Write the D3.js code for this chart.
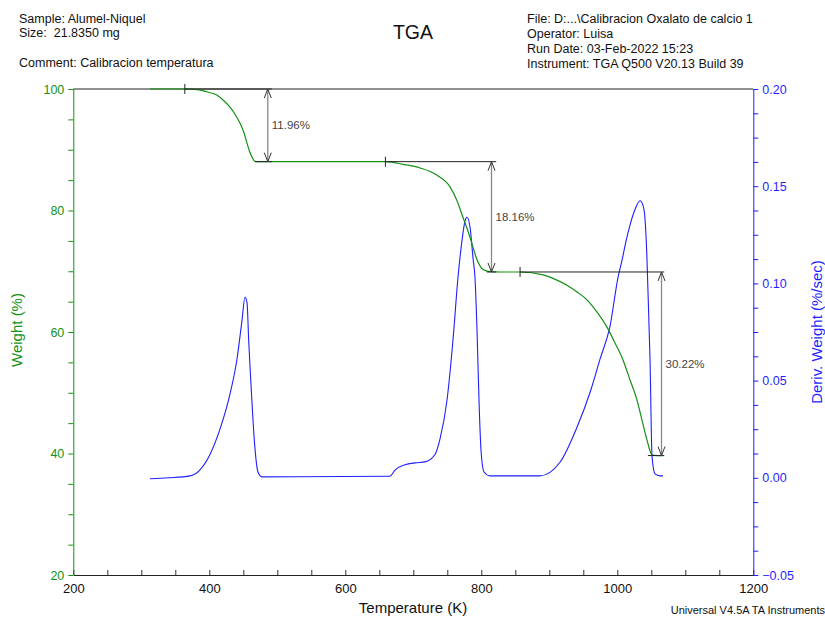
<!DOCTYPE html>
<html>
<head>
<meta charset="utf-8">
<script src="https://cdn.jsdelivr.net/npm/d3@7"></script>
<style>
  body { margin: 0; background: #fff; }
  svg { font-family: "Liberation Sans", Arial, sans-serif; }
</style>
</head>
<body>
<svg width="825" height="619"></svg>
<script>
// weight curve
const tempW = [312.8, 364, 385, 397, 411, 421, 430.4, 438, 445, 451, 455.4, 459, 462.8, 467, 473,
  659, 685, 710, 735, 754, 764, 773, 783.4, 793.7, 802.5, 812.8, 827,
  857, 891, 908, 926, 940.7, 955.4, 970, 984.8, 996.6, 1008.4, 1018.7, 1029, 1036.3, 1043.7, 1051, 1058, 1067]
const weight = [100, 100, 99.85, 99.5, 99.0, 98.1, 97.0, 95.8, 94.4, 92.8, 91.1, 89.8, 88.8, 88.1, 88.04,
  88.04, 87.6, 87.0, 85.8, 83.9, 81.7, 78.9, 75.6, 71.9, 70.3, 69.95, 69.88,
  69.88, 69.4, 68.7, 67.7, 66.6, 65.3, 63.3, 60.8, 58.2, 55.4, 52.1, 48.8, 45.5, 42.2, 39.8, 39.66, 39.66]

// derivative curve
const tempD = [312.8, 340, 371.6, 386, 401, 415.7, 430.4, 440.7, 448.1, 452.5, 455.5, 458, 461, 464.2, 467.2, 471.6, 477.5,
  665.7, 673.1, 687.8, 702.5, 717.2, 731.9, 739.3, 749.6, 758.4, 765.7, 771.6, 776, 779, 783.4, 787.8, 790.7, 793.7, 796.6, 799.6, 804, 812.8,
  886, 915.7, 940.7, 960, 974.6, 989.3, 1001, 1007, 1013, 1018.7, 1026, 1033.4, 1037.9, 1040.8, 1043.7, 1045.2, 1048.1, 1051.1, 1055.5, 1062.8, 1067.2]
const deriv = [-0.0005, 0, 0.001, 0.004, 0.012, 0.025, 0.043, 0.061, 0.081, 0.093, 0.09, 0.07, 0.05, 0.03, 0.015, 0.003, 0.0005,
  0.0008, 0.004, 0.0067, 0.0077, 0.0082, 0.012, 0.02, 0.04, 0.071, 0.103, 0.122, 0.132, 0.134, 0.129, 0.113, 0.103, 0.076, 0.04, 0.014, 0.003, 0.001,
  0.001, 0.008, 0.026, 0.044, 0.061, 0.078, 0.103, 0.112, 0.122, 0.130, 0.138, 0.1425, 0.140, 0.133, 0.112, 0.095, 0.061, 0.011, 0.002, 0.001, 0.001]

// step analysis
const stepStartT = [364, 659, 857]
const stepArrowT = [486, 815, 1065]
const stepEndT = [492, 822, 1069]
const stepLowT = [467, 808, 1045]
const stepTop = [100, 88.04, 69.88]
const stepPct = [11.96, 18.16, 30.22]

const xTicks = [200, 400, 600, 800, 1000, 1200]
const wTicks = [20, 40, 60, 80, 100]
const dTicks = [-0.05, 0, 0.05, 0.10, 0.15, 0.20]

const headerLeft = ['Sample: Alumel-Niquel', 'Size:  21.8350 mg']
const headerRight = ['File: D:...\\Calibracion Oxalato de calcio 1', 'Operator: Luisa',
  'Run Date: 03-Feb-2022 15:23', 'Instrument: TGA Q500 V20.13 Build 39']

const GREEN = '#139113'
const BLUE = '#1f1fff'

const svg = d3.select('svg')

const x = d3.scaleLinear().domain([200, 1200]).range([73.3, 753.3])
const yW = d3.scaleLinear().domain([20, 100]).range([575, 89])
const yD = d3.scaleLinear().domain([-0.05, 0.20]).range([575, 89])

// open arrow head, tip at the line end
svg.append('defs').append('marker')
  .attr('id', 'vee').attr('viewBox', '-11 -6 12 12')
  .attr('refX', 0).attr('refY', 0)
  .attr('markerWidth', 12).attr('markerHeight', 12)
  .attr('markerUnits', 'userSpaceOnUse')
  .attr('orient', 'auto-start-reverse')
  .append('path').attr('d', 'M -9,-3.5 L 0,0 L -9,3.5')
  .attr('fill', 'none').attr('stroke', '#333').attr('stroke-width', 1)

// axes
const fmtX = d => xTicks.includes(d) ? d : ''
const bottom = svg.append('g').attr('transform', `translate(0,${yW(20)})`)
  .call(d3.axisBottom(x).tickValues(d3.range(200, 1201, 50)).tickSize(-5).tickSizeOuter(0)
    .tickPadding(9).tickFormat(fmtX))
bottom.select('.domain').attr('stroke', '#222')
bottom.selectAll('.tick line').attr('stroke', '#333')
bottom.selectAll('text').attr('font-size', 13).attr('fill', '#111').attr('font-family', null)

const left = svg.append('g').attr('transform', `translate(${x(200)},0)`)
  .call(d3.axisLeft(yW).tickValues(d3.range(20, 101, 5)).tickSize(5).tickSizeOuter(0)
    .tickPadding(4).tickFormat(d => wTicks.includes(d) ? d : ''))
left.selectAll('.domain, .tick line').attr('stroke', GREEN)
left.selectAll('text').attr('font-size', 12.5).attr('fill', GREEN).attr('font-family', null)

const dMinor = d3.range(0, 21).map(i => -0.05 + i * 0.0125)
const right = svg.append('g').attr('transform', `translate(${x(1200)},0)`)
  .call(d3.axisRight(yD).tickValues(dMinor).tickSize(5).tickSizeOuter(0)
    .tickPadding(4).tickFormat(d => dTicks.some(t => Math.abs(t - d) < 1e-6) ? d3.format('.2f')(d) : ''))
right.selectAll('.domain, .tick line').attr('stroke', BLUE)
right.selectAll('text').attr('font-size', 12.5).attr('fill', BLUE).attr('font-family', null)

// top frame line
svg.append('line')
  .attr('x1', x(200)).attr('x2', x(1200)).attr('y1', yW(100)).attr('y2', yW(100))
  .attr('stroke', '#222')

// curves
const wLine = d3.line().x(d => x(d[0])).y(d => yW(d[1])).curve(d3.curveMonotoneX)
const dLine = d3.line().x(d => x(d[0])).y(d => yD(d[1])).curve(d3.curveMonotoneX)

svg.append('path').datum(d3.zip(tempD, deriv)).attr('d', dLine)
  .attr('fill', 'none').attr('stroke', BLUE).attr('stroke-width', 1.1)

svg.append('path').datum(d3.zip(tempW, weight)).attr('d', wLine)
  .attr('fill', 'none').attr('stroke', GREEN).attr('stroke-width', 1.2)

// step annotations
stepPct.forEach((pct, i) => {
  const top = stepTop[i]
  const low = top - pct
  const g = svg.append('g')
  g.append('line').attr('x1', x(stepStartT[i])).attr('x2', x(stepEndT[i]))
    .attr('y1', yW(top)).attr('y2', yW(top)).attr('stroke', '#222')
  g.append('line').attr('x1', x(stepStartT[i])).attr('x2', x(stepStartT[i]))
    .attr('y1', yW(top) - 5).attr('y2', yW(top) + 5).attr('stroke', '#222')
  g.append('line').attr('x1', x(stepLowT[i])).attr('x2', x(stepEndT[i]))
    .attr('y1', yW(low)).attr('y2', yW(low)).attr('stroke', '#222')
  g.append('line').attr('x1', x(stepArrowT[i])).attr('x2', x(stepArrowT[i]))
    .attr('y1', yW(top)).attr('y2', yW(low))
    .attr('stroke', '#888').attr('stroke-width', 1.3)
    .attr('marker-start', 'url(#vee)').attr('marker-end', 'url(#vee)')
  g.append('text').text(pct.toFixed(2) + '%')
    .attr('x', x(stepArrowT[i]) + 4).attr('y', (yW(top) + yW(low)) / 2 + 4)
    .attr('font-size', 11.5).attr('fill', '#444')
})

// titles and header
svg.append('text').text('TGA').attr('x', 413).attr('y', 38.5)
  .attr('text-anchor', 'middle').attr('font-size', 19.5).attr('fill', '#111')

headerLeft.forEach((t, i) => {
  svg.append('text').text(t).attr('x', 19).attr('y', 22.5 + i * 14)
    .attr('font-size', 12.5).attr('fill', '#111').attr('xml:space', 'preserve')
})
svg.append('text').text('Comment: Calibracion temperatura').attr('x', 19).attr('y', 67)
  .attr('font-size', 12.5).attr('fill', '#111')

headerRight.forEach((t, i) => {
  svg.append('text').text(t).attr('x', 527).attr('y', 22.5 + i * 15)
    .attr('font-size', 12.5).attr('fill', '#111')
})

svg.append('text').text('Temperature (K)').attr('x', 413).attr('y', 613)
  .attr('text-anchor', 'middle').attr('font-size', 15).attr('fill', '#111')

svg.append('text').text('Weight (%)')
  .attr('transform', 'translate(22,330) rotate(-90)')
  .attr('text-anchor', 'middle').attr('font-size', 15).attr('fill', GREEN)

svg.append('text').text('Deriv. Weight (%/sec)')
  .attr('transform', 'translate(822,332) rotate(-90)')
  .attr('text-anchor', 'middle').attr('font-size', 15).attr('fill', BLUE)

svg.append('text').text('Universal V4.5A TA Instruments').attr('x', 825).attr('y', 614)
  .attr('text-anchor', 'end').attr('font-size', 11).attr('fill', '#111')
</script>
</body>
</html>
